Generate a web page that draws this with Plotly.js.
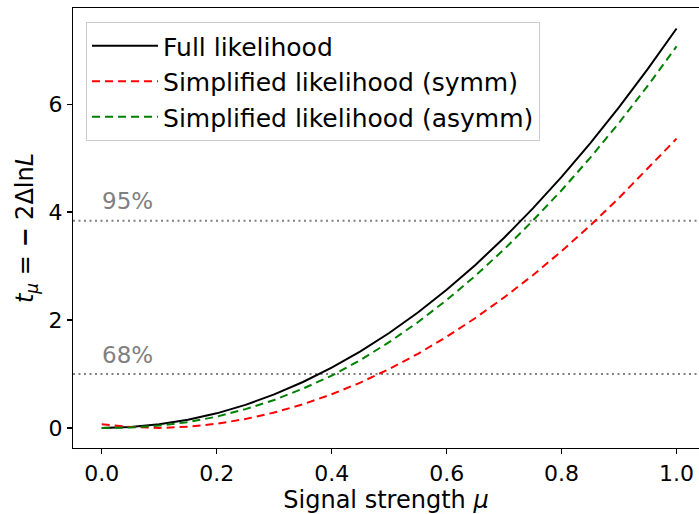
<!DOCTYPE html>
<html>
<head>
<meta charset="utf-8">
<script src="https://cdn.plot.ly/plotly-3.0.1.min.js"></script>
<style>html,body{margin:0;padding:0;background:#fff;}#chart{width:699px;height:514px;}</style>
</head>
<body>
<div id="chart"></div>
<script>
const mu = [0.00,0.05,0.10,0.15,0.20,0.25,0.30,0.35,0.40,0.45,0.50,0.55,0.60,0.65,0.70,0.75,0.80,0.85,0.90,0.95,1.00];
const fullLik = [0.000,0.018,0.068,0.152,0.272,0.428,0.622,0.853,1.120,1.420,1.760,2.140,2.560,3.021,3.524,4.068,4.652,5.278,5.944,6.651,7.400];
const simpSymm = [0.070,0.020,0.002,0.023,0.079,0.166,0.287,0.439,0.625,0.842,1.093,1.375,1.691,2.038,2.419,2.831,3.277,3.754,4.265,4.807,5.360];
const simpAsymm = [0.000,0.010,0.045,0.110,0.210,0.350,0.520,0.730,0.970,1.260,1.590,1.960,2.370,2.820,3.310,3.842,4.405,5.010,5.655,6.341,7.070];
const seriesNames = ["Full likelihood","Simplified likelihood (symm)","Simplified likelihood (asymm)"];
const clLevels = [1.0, 3.84];
const clLabels = ["68%", "95%"];
const xTicks = [0.0,0.2,0.4,0.6,0.8,1.0];
const xTickText = ["0.0","0.2","0.4","0.6","0.8","1.0"];
const yTicks = [0,2,4,6];

const FONT = "DejaVu Sans, Liberation Sans, sans-serif";

const traces = [
  {x: mu, y: fullLik, name: seriesNames[0], mode: "lines", legendgroup: "a",
   line: {color: "#000000", width: 2}},
  {x: mu, y: simpSymm, name: seriesNames[1], mode: "lines", legendgroup: "b",
   line: {color: "#ff0000", width: 2, dash: "8px,5px"}},
  {x: mu, y: simpAsymm, name: seriesNames[2], mode: "lines", legendgroup: "c",
   line: {color: "#008000", width: 2, dash: "8px,5px"}}
];

const shapes = clLevels.map(v => ({
  type: "line", xref: "paper", x0: 0, x1: 1, yref: "y", y0: v, y1: v,
  line: {color: "#808080", width: 2, dash: "2px,3.5px"}, layer: "below"
}));

const annotations = clLevels.map((v, i) => ({
  x: 0, y: v + 0.36, xref: "x", yref: "y", text: clLabels[i], showarrow: false,
  xanchor: "left", yanchor: "middle", xshift: -2,
  font: {family: FONT, size: 23, color: "#808080"}
}));

const layout = {
  width: 699, height: 514,
  margin: {l: 73, r: 0, t: 8, b: 66, pad: 0},
  paper_bgcolor: "#ffffff", plot_bgcolor: "#ffffff",
  font: {family: FONT, color: "#000000"},
  showlegend: true,
  legend: {
    x: 0.0208, y: 0.968, xanchor: "left", yanchor: "top",
    bgcolor: "rgba(255,255,255,0.8)", bordercolor: "#cccccc", borderwidth: 1,
    font: {family: FONT, size: 25, color: "#000000"},
    traceorder: "grouped", tracegroupgap: 0, itemwidth: 66
  },
  xaxis: {
    range: [-0.05, 1.039], tickvals: xTicks, ticktext: xTickText,
    ticks: "outside", ticklen: 5, tickwidth: 1.2, tickcolor: "#000",
    showline: true, linecolor: "#000", linewidth: 1.2, mirror: true,
    showgrid: false, zeroline: false,
    tickfont: {family: FONT, size: 22, color: "#000"},
    title: {text: "Signal strength <i>μ</i>", font: {family: FONT, size: 24, color: "#000"}, standoff: 6}
  },
  yaxis: {
    range: [-0.37, 7.78], tickvals: yTicks,
    ticks: "outside", ticklen: 5, tickwidth: 1.2, tickcolor: "#000",
    showline: true, linecolor: "#000", linewidth: 1.2, mirror: false,
    showgrid: false, zeroline: false,
    tickfont: {family: FONT, size: 22, color: "#000"},
    title: {text: "<i>t</i><sub><i>μ</i></sub> = <b>−</b> 2Δln<i>L</i>", font: {family: FONT, size: 24, color: "#000"}, standoff: 8}
  },
  shapes: shapes,
  annotations: annotations
};

Plotly.newPlot("chart", traces, layout, {displayModeBar: false, staticPlot: true});
</script>
</body>
</html>
